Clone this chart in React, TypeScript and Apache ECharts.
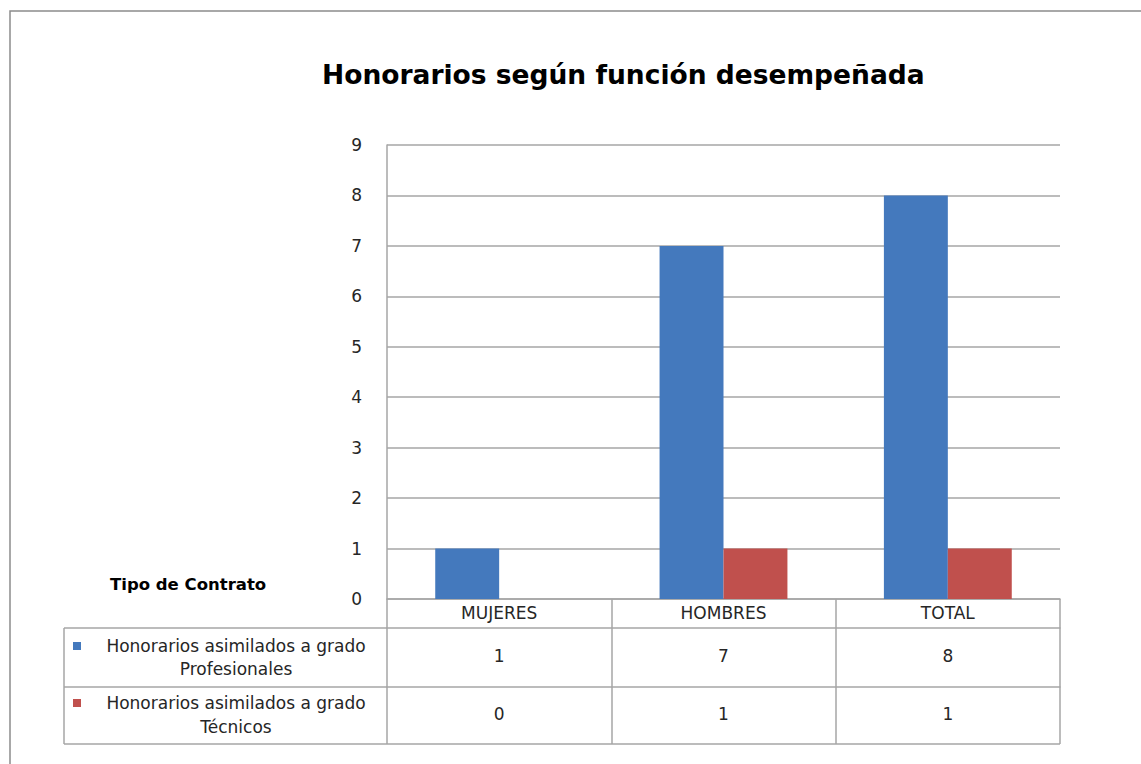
import React, { useEffect, useRef } from "react";
import * as echarts from "echarts";

const titleText = "Honorarios según función desempeñada";
const categories = ["MUJERES", "HOMBRES", "TOTAL"];
const seriesNames = [
  "Honorarios asimilados a grado\nProfesionales",
  "Honorarios asimilados a grado\nTécnicos",
];
const profesionales = [1, 7, 8];
const tecnicos = [0, 1, 1];
const colors = ["#4479BD", "#C0504D"];
const yTicks = { min: 0, max: 9, interval: 1 };

const FONT = "DejaVu Sans";
const GRID = "#a6a6a6";
const TXT = "#262626";
const FS = 17;

export default function App() {
  const ref = useRef<HTMLDivElement>(null);
  useEffect(() => {
    if (!ref.current) return;
    const chart = echarts.init(ref.current, null, { renderer: "svg" });
    const L = 387, R = 1060, T = 145, B = 599;
    const row1 = 628, row2 = 687, row3 = 744, tableL = 64;
    const line = (x1: number, y1: number, x2: number, y2: number) => ({
      type: "line",
      shape: { x1, y1, x2, y2 },
      style: { stroke: GRID, lineWidth: 1.5 },
      silent: true,
    });
    chart.setOption({
      animation: false,
      backgroundColor: "#fff",
      title: {
        text: titleText,
        left: 317,
        top: 56,
        textStyle: { fontFamily: FONT, fontSize: 26.5, fontWeight: "bold", color: "#000" },
      },
      grid: { left: L, right: 1141 - R, top: T, bottom: 764 - B },
      xAxis: [
        {
          type: "category",
          data: categories,
          position: "bottom",
          axisLine: { show: true, lineStyle: { color: GRID, width: 1.5 } },
          axisTick: { show: true, length: row3 - B, lineStyle: { color: GRID, width: 1.5 } },
          axisLabel: { fontFamily: FONT, fontSize: FS, color: TXT, margin: 5 },
        },
        {
          type: "category",
          data: profesionales.map(String),
          position: "bottom",
          offset: row1 - B,
          axisLine: { show: true, lineStyle: { color: GRID, width: 1.5 } },
          axisTick: { show: false },
          axisLabel: { fontFamily: FONT, fontSize: FS, color: TXT, margin: 19 },
        },
        {
          type: "category",
          data: tecnicos.map(String),
          position: "bottom",
          offset: row2 - B,
          axisLine: { show: true, lineStyle: { color: GRID, width: 1.5 } },
          axisTick: { show: false },
          axisLabel: { fontFamily: FONT, fontSize: FS, color: TXT, margin: 18 },
        },
      ],
      yAxis: {
        type: "value",
        min: yTicks.min,
        max: yTicks.max,
        interval: yTicks.interval,
        axisLine: { show: true, lineStyle: { color: GRID, width: 1.5 } },
        axisTick: { show: false },
        axisLabel: { fontFamily: FONT, fontSize: FS, color: TXT, margin: 25 },
        splitLine: { show: true, lineStyle: { color: GRID, width: 1.5 } },
      },
      series: [
        {
          name: seriesNames[0],
          type: "bar",
          xAxisIndex: 0,
          data: profesionales,
          itemStyle: { color: colors[0] },
          barGap: "0%",
          barCategoryGap: "43%",
        },
        {
          name: seriesNames[1],
          type: "bar",
          xAxisIndex: 0,
          data: tecnicos,
          itemStyle: { color: colors[1] },
          barGap: "0%",
          barCategoryGap: "43%",
        },
      ],
      graphic: [
        {
          type: "rect",
          shape: { x: 10, y: 11, width: 1300, height: 900 },
          style: { fill: "none", stroke: "#8c8c8c", lineWidth: 1.5 },
          silent: true,
        },
        line(tableL, row1, L, row1),
        line(tableL, row2, L, row2),
        line(tableL, row3, R, row3),
        line(tableL, row1, tableL, row3),
        {
          type: "text",
          left: 110,
          top: 576,
          style: { text: "Tipo de Contrato", fontFamily: FONT, fontSize: 16.5, fontWeight: "bold", fill: "#000" },
        },
        {
          type: "rect",
          shape: { x: 73, y: 642, width: 8, height: 8 },
          style: { fill: colors[0] },
        },
        {
          type: "text",
          x: 236,
          y: 657,
          style: {
            text: seriesNames[0],
            fontFamily: FONT,
            fontSize: FS,
            fill: TXT,
            align: "center",
            verticalAlign: "middle",
            lineHeight: 23,
          },
        },
        {
          type: "rect",
          shape: { x: 73, y: 699, width: 8, height: 8 },
          style: { fill: colors[1] },
        },
        {
          type: "text",
          x: 236,
          y: 715,
          style: {
            text: seriesNames[1],
            fontFamily: FONT,
            fontSize: FS,
            fill: TXT,
            align: "center",
            verticalAlign: "middle",
            lineHeight: 24,
          },
        },
      ],
    });
    return () => chart.dispose();
  }, []);
  return (
    <div
      ref={ref}
      style={{ position: "fixed", left: 0, top: 0, width: 1141, height: 764 }}
    />
  );
}
